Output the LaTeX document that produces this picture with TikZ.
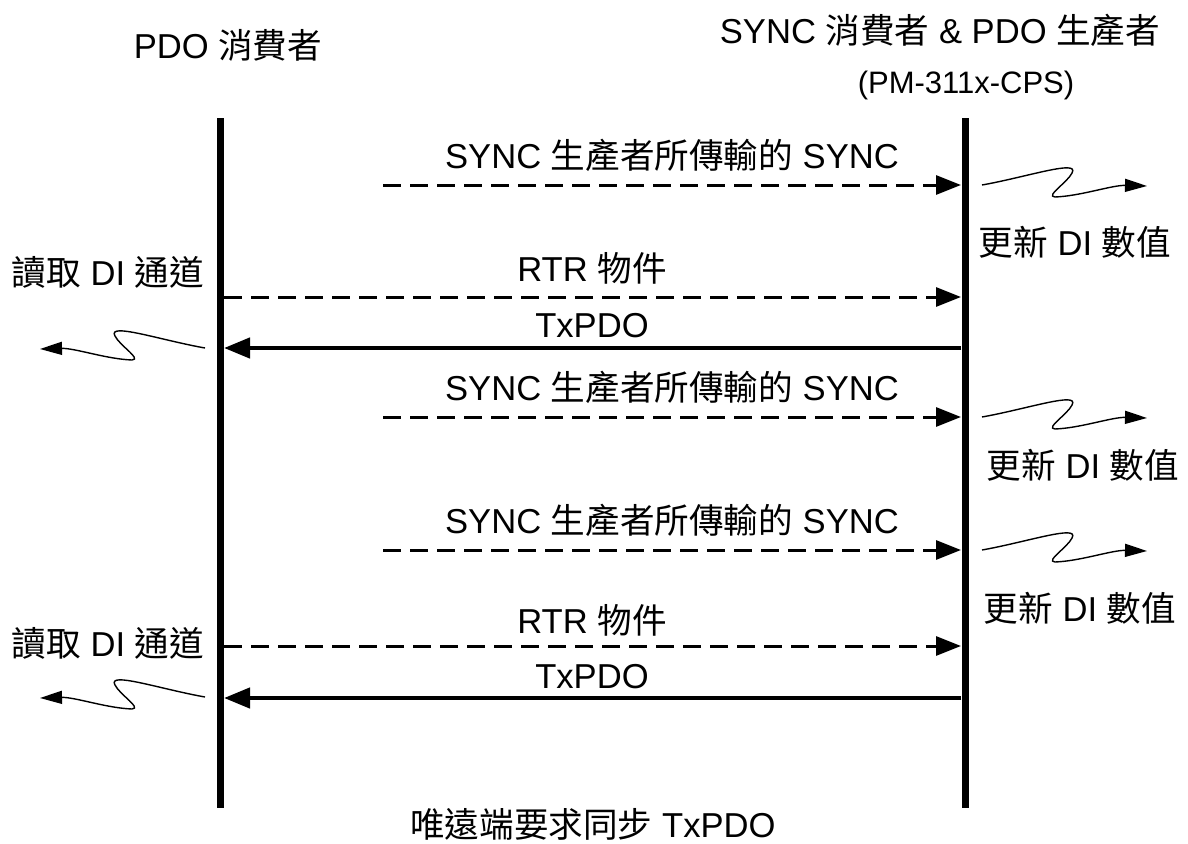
\documentclass[tikz,border=0pt]{standalone}
\usepackage{fontspec}
\setmainfont{Liberation Sans}
\newfontfamily\cjk{Noto Sans CJK TC}
\usetikzlibrary{arrows.meta}

\begin{document}
\begin{tikzpicture}[x=1pt,y=-1pt,
    every node/.style={font=\fontsize{34.6}{40}\selectfont,inner sep=0pt},
    small/.style={font=\fontsize{31}{36}\selectfont},
    life/.style={line width=7pt},
    msg/.style={line width=3pt,dash pattern=on 18pt off 9pt,-{Triangle[length=25pt,width=19pt]}},
    reply/.style={line width=4.5pt,-{Triangle[length=26pt,width=20pt]}},
    wavy/.style={line width=1.4pt,-{Triangle[length=22pt,width=13pt]}}]
\useasboundingbox (0,0) rectangle (1188,843);

% lifelines
\coordinate (P0) at (220,118);
\coordinate (P1) at (220,808);
\coordinate (S0) at (965,118);
\coordinate (S1) at (965,808);
\draw[life] (P0) -- (P1);
\draw[life] (S0) -- (S1);

% headers
\node (pdo) at (228,45) {PDO {\cjk 消費者}};
\node (sync) at (940,30) {SYNC {\cjk 消費者} \& PDO {\cjk 生產者}};
\node[small] (dev) at (966,85) {(PM-311x-CPS)};

% message end points
\coordinate (a) at (383,185);  \coordinate (A) at (961,185);
\coordinate (b) at (224,297);  \coordinate (B) at (961,297);
\coordinate (c) at (961,348);  \coordinate (C) at (224,348);
\coordinate (d) at (383,417);  \coordinate (D) at (961,417);
\coordinate (e) at (383,550);  \coordinate (E) at (961,550);
\coordinate (f) at (224,646);  \coordinate (F) at (961,646);
\coordinate (g) at (961,698);  \coordinate (G) at (224,698);

\draw[msg] (a) -- (A);
\draw[msg] (b) -- (B);
\draw[reply] (c) -- (C);
\draw[msg] (d) -- (D);
\draw[msg] (e) -- (E);
\draw[msg] (f) -- (F);
\draw[reply] (g) -- (G);

% message labels
\node (la) at (672,155) {SYNC {\cjk 生產者所傳輸的} SYNC};
\node (lb) at (592,268) {RTR {\cjk 物件}};
\node (lc) at (592,326) {TxPDO};
\node (ld) at (672,387) {SYNC {\cjk 生產者所傳輸的} SYNC};
\node (le) at (672,520) {SYNC {\cjk 生產者所傳輸的} SYNC};
\node (lf) at (592,620) {RTR {\cjk 物件}};
\node (lg) at (592,677) {TxPDO};

% local actions
\coordinate (u1) at (982,185);  \coordinate (U1) at (1147,186);
\coordinate (u2) at (982,417);  \coordinate (U2) at (1147,418);
\coordinate (u3) at (982,550);  \coordinate (U3) at (1147,551);
\coordinate (r1) at (205,348);  \coordinate (R1) at (40,349);
\coordinate (r2) at (205,697);  \coordinate (R2) at (40,698);

\draw[wavy] (u1) .. controls +(45,-8) and +(8,-14) .. ++(90,-12)
    .. controls +(-5,10) and +(-10,-1) .. ++(-17,24)
    .. controls +(26,-1) and +(-35,-1) .. (U1);
\draw[wavy] (u2) .. controls +(45,-8) and +(8,-14) .. ++(90,-12)
    .. controls +(-5,10) and +(-10,-1) .. ++(-17,24)
    .. controls +(26,-1) and +(-35,-1) .. (U2);
\draw[wavy] (u3) .. controls +(45,-8) and +(8,-14) .. ++(90,-12)
    .. controls +(-5,10) and +(-10,-1) .. ++(-17,24)
    .. controls +(26,-1) and +(-35,-1) .. (U3);
\draw[wavy] (r1) .. controls +(-45,-8) and +(-8,-14) .. ++(-90,-12)
    .. controls +(5,10) and +(10,-1) .. ++(17,24)
    .. controls +(-26,-1) and +(35,-1) .. (R1);
\draw[wavy] (r2) .. controls +(-45,-8) and +(-8,-14) .. ++(-90,-12)
    .. controls +(5,10) and +(10,-1) .. ++(17,24)
    .. controls +(-26,-1) and +(35,-1) .. (R2);

\node (n1) at (1075,242) {{\cjk 更新} DI {\cjk 數值}};
\node (n2) at (1083,465) {{\cjk 更新} DI {\cjk 數值}};
\node (n3) at (1080,608) {{\cjk 更新} DI {\cjk 數值}};
\node (m1) at (108,272) {{\cjk 讀取} DI {\cjk 通道}};
\node (m2) at (108,643) {{\cjk 讀取} DI {\cjk 通道}};

% caption
\node (cap) at (593,824) {{\cjk 唯遠端要求同步} TxPDO};
\end{tikzpicture}
\end{document}
